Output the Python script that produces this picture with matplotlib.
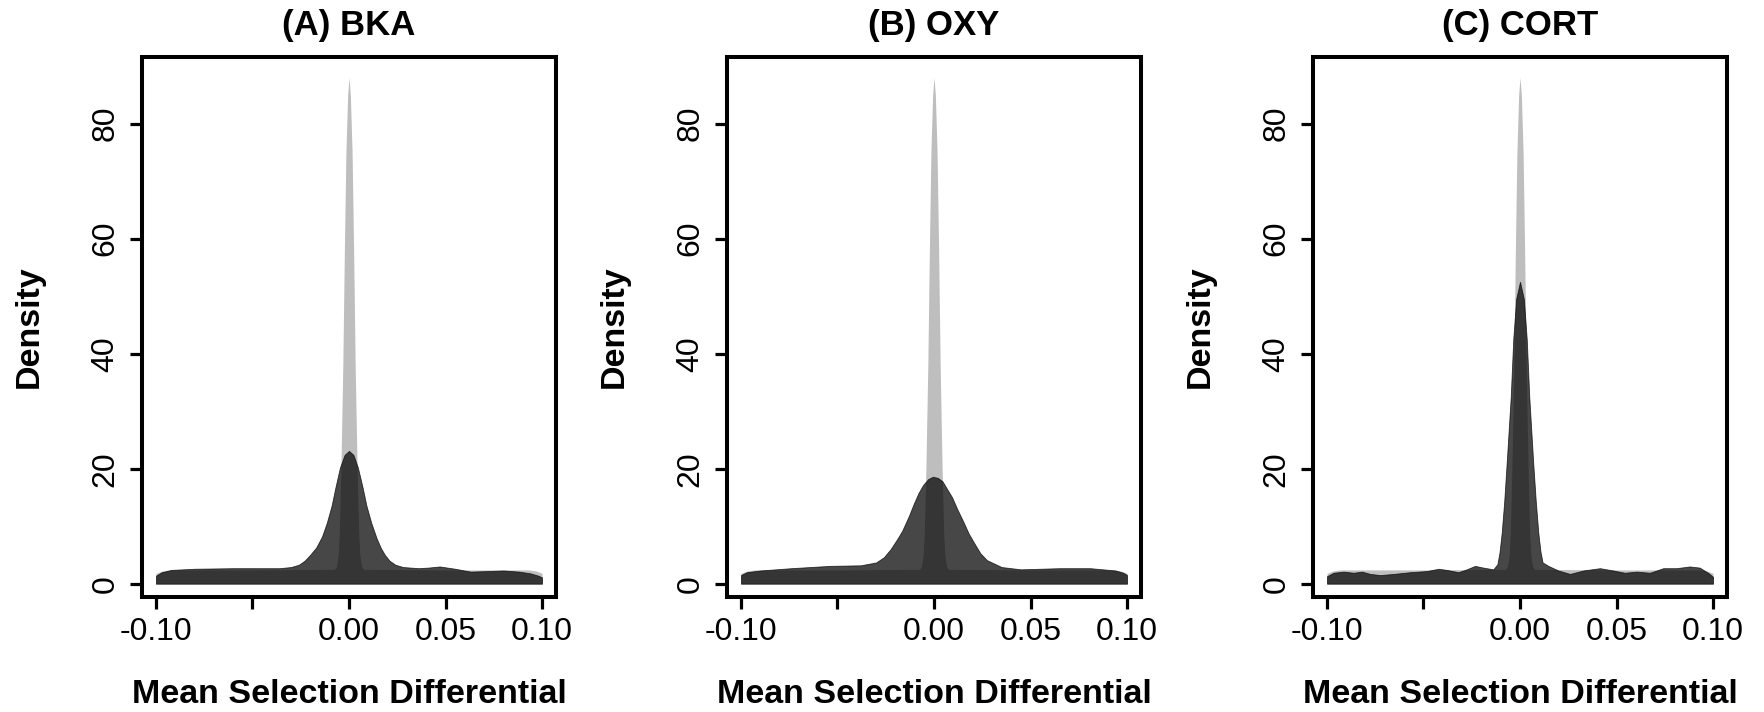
import matplotlib
matplotlib.use("Agg")
import matplotlib.pyplot as plt

plt.rcParams['font.family'] = ['Liberation Sans', 'DejaVu Sans']

# ---------------- data ----------------
titles = ["(A) BKA", "(B) OXY", "(C) CORT"]
x_label = "Mean Selection Differential"
y_label = "Density"
x_ticks = [-0.10, -0.05, 0.00, 0.05, 0.10]
x_tick_labels = ["-0.10", "", "0.00", "0.05", "0.10"]
y_ticks = [0, 20, 40, 60, 80]
y_tick_labels = ["0", "20", "40", "60", "80"]

# prior density (light grey), same in every panel
prior_x = [-0.100, -0.097, -0.093, -0.050, -0.0075, -0.0065, -0.0056, -0.0050,
           -0.0042, -0.0032, -0.0024, -0.0016, -0.0007, 0.0, 0.0007, 0.0016,
           0.0024, 0.0032, 0.0042, 0.0050, 0.0056, 0.0065, 0.0075, 0.050,
           0.093, 0.097, 0.100]
prior_y = [1.8, 2.2, 2.4, 2.4, 2.5, 3.0, 5.0, 9.0,
           20.0, 38.0, 58.0, 75.0, 85.0, 88.0, 85.0, 75.0,
           58.0, 38.0, 20.0, 9.0, 5.0, 3.0, 2.5, 2.4,
           2.4, 2.2, 1.8]

# posterior densities (dark, semi-transparent)
bka_x = [-0.100, -0.097, -0.092, -0.080, -0.060, -0.045, -0.036, -0.030, -0.026,
         -0.023, -0.0202, -0.017, -0.014, -0.0115, -0.009, -0.007, -0.0047,
         -0.0023, 0.0, 0.0023, 0.0046, 0.007, 0.009, 0.0115, 0.0143, 0.0165,
         0.0186, 0.021, 0.024, 0.028, 0.036, 0.041, 0.047, 0.055, 0.063, 0.072,
         0.080, 0.088, 0.094, 0.098, 0.100]
bka_y = [1.4, 2.0, 2.4, 2.6, 2.7, 2.7, 2.7, 2.9, 3.3,
         4.0, 5.0, 6.3, 8.2, 10.6, 13.6, 16.8, 20.2,
         22.4, 23.1, 22.4, 20.2, 16.8, 13.6, 10.6, 7.9, 6.2,
         5.0, 4.0, 3.3, 2.9, 2.7, 2.8, 3.0, 2.6, 2.1, 2.2,
         2.3, 2.1, 1.8, 1.4, 1.1]

oxy_x = [-0.100, -0.097, -0.090, -0.074, -0.054, -0.038, -0.030, -0.026, -0.0225,
         -0.019, -0.0165, -0.013, -0.0105, -0.008, -0.0056, -0.003, -0.0006,
         0.002, 0.0044, 0.0094, 0.012, 0.0153, 0.018, 0.0213, 0.024, 0.0274,
         0.035, 0.045, 0.065, 0.081, 0.094, 0.098, 0.100]
oxy_y = [1.5, 2.0, 2.3, 2.7, 3.1, 3.2, 3.7, 4.6, 6.0,
         7.8, 9.2, 11.8, 13.9, 15.8, 17.2, 18.2, 18.6,
         18.4, 17.8, 15.0, 13.0, 10.7, 8.7, 6.8, 5.3, 4.1,
         2.9, 2.5, 2.7, 2.7, 2.3, 1.9, 1.5]

cort_x = [-0.100, -0.0966, -0.0914, -0.0862, -0.0819, -0.0776, -0.0724, -0.0655,
          -0.0569, -0.0483, -0.0422, -0.0379, -0.0319, -0.0276, -0.0233, -0.0190,
          -0.0138, -0.0117, -0.0106, -0.0095, -0.0082, -0.0070, -0.0048, -0.0035,
          -0.0020, 0.0, 0.0020, 0.0035, 0.0048, 0.0069, 0.0082, 0.0095, 0.0106,
          0.0117, 0.0147, 0.0198, 0.0259, 0.0328, 0.0414, 0.0483, 0.0543, 0.0604,
          0.0673, 0.0742, 0.0810, 0.0879, 0.0931, 0.0974, 0.100]
cort_y = [1.3, 1.9, 2.1, 1.9, 2.1, 1.7, 1.5, 1.7,
          2.0, 2.2, 2.6, 2.4, 2.0, 2.5, 3.1, 2.8,
          2.5, 3.4, 5.5, 8.8, 14.2, 20.5, 32.5, 42.5,
          49.5, 52.5, 49.5, 42.5, 32.5, 20.7, 14.2, 8.8, 5.6,
          3.7, 3.1, 2.3, 1.7, 2.3, 2.7, 2.3, 1.9, 2.1,
          1.9, 2.7, 2.7, 3.0, 2.8, 1.9, 1.2]

posteriors = [(bka_x, bka_y), (oxy_x, oxy_y), (cort_x, cort_y)]

# ---------------- layout ----------------
W, H = 1764, 712
fig = plt.figure(figsize=(W / 100, H / 100), dpi=100)
ax_lefts = [141.7, 726.7, 1312.7]
ax_w, ax_top, ax_bot = 414.6, 56.7, 596.7
ax_h = ax_bot - ax_top

for i, (title, (px, py)) in enumerate(zip(titles, posteriors)):
    ax = fig.add_axes([ax_lefts[i] / W, 1 - ax_bot / H, ax_w / W, ax_h / H])
    ax.fill_between(prior_x, 0, prior_y, color='#bebebe', lw=0)
    ax.fill_between(px, 0, py, facecolor='black', edgecolor='black',
                    alpha=0.72, lw=0.6)
    ax.set_xlim(-0.1074, 0.1074)
    ax.set_ylim(-2.26, 91.65)
    for s in ax.spines.values():
        s.set_linewidth(2.9)
    ax.tick_params(axis='both', length=8.4, width=2.3, direction='out')
    ax.tick_params(axis='x', pad=22.5)
    ax.tick_params(axis='y', pad=12.0)
    ax.set_xticks(x_ticks, x_tick_labels, fontsize=23, va='baseline')
    ax.set_yticks(y_ticks, y_tick_labels, fontsize=23, rotation=90,
                  rotation_mode='anchor', ha='center', va='baseline')
    ax.text(0.5, (ax_bot - 35) / ax_h, title, transform=ax.transAxes,
            ha='center', va='baseline', fontsize=25, fontweight='bold')
    ax.text(0.5, (ax_bot - 703.3) / ax_h, x_label, transform=ax.transAxes,
            ha='center', va='baseline', fontsize=24.5, fontweight='bold')
    ax.text((38 - 141.7) / ax_w, 0.5, y_label, transform=ax.transAxes,
            rotation=90, rotation_mode='anchor', ha='center', va='baseline',
            fontsize=24.5, fontweight='bold')

fig.savefig("out.png", dpi=100)
